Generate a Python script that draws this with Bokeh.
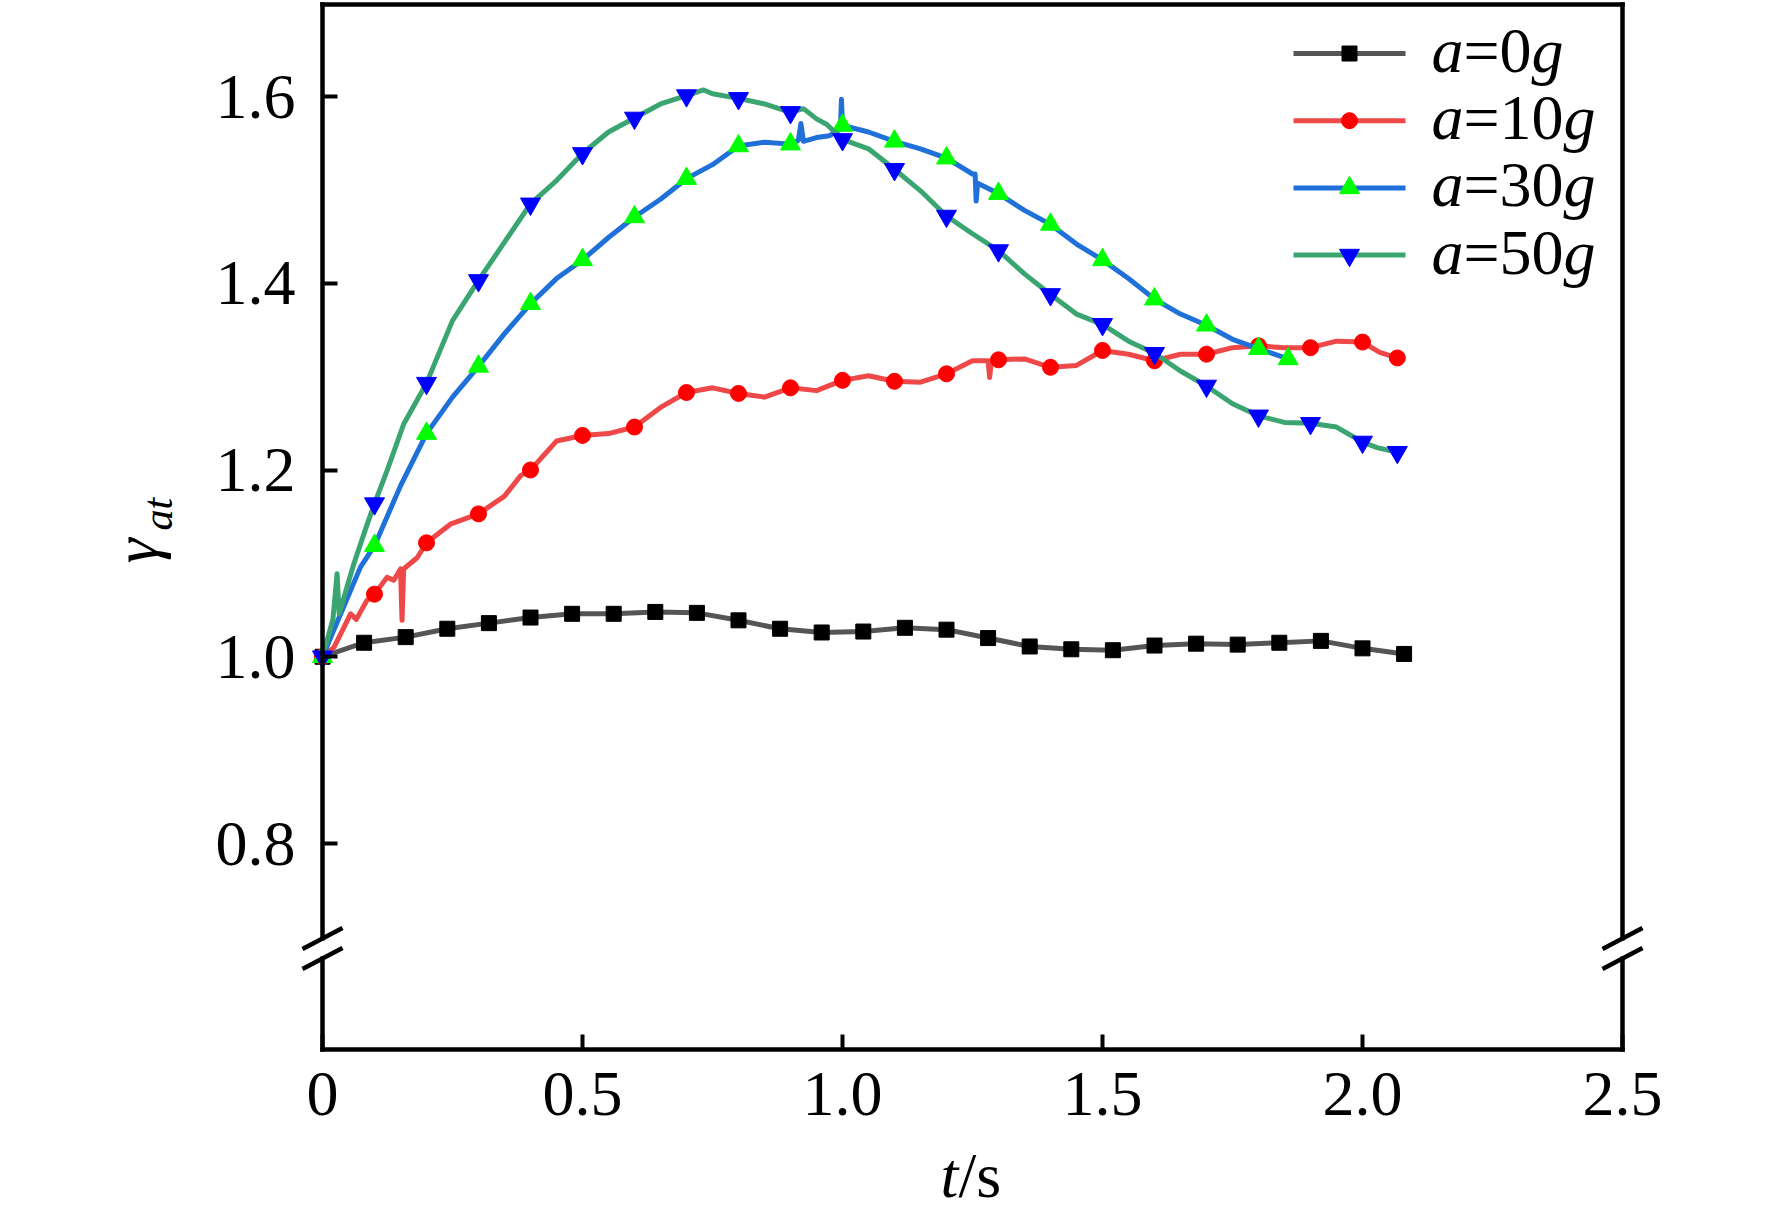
import math
from bokeh.plotting import figure
from bokeh.models import Range1d, LinearAxis, FixedTicker
from bokeh.core.properties import value
from bokeh.embed import file_html
from bokeh.resources import INLINE

# ---------------- data ----------------
t_0g = [0.00, 0.08, 0.16, 0.24, 0.32, 0.40, 0.48, 0.56, 0.64, 0.72, 0.80, 0.88, 0.96, 1.04,
        1.12, 1.20, 1.28, 1.36, 1.44, 1.52, 1.60, 1.68, 1.76, 1.84, 1.92, 2.00, 2.08]
y_0g = [1.000, 1.015, 1.021, 1.030, 1.036, 1.042, 1.046, 1.046, 1.048, 1.047, 1.039, 1.030, 1.026, 1.027,
        1.031, 1.029, 1.020, 1.011, 1.008, 1.007, 1.012, 1.014, 1.013, 1.015, 1.017, 1.009, 1.003]

t_10g = [0.000, 0.022, 0.040, 0.054, 0.065, 0.085, 0.100, 0.124, 0.137, 0.150, 0.153, 0.156, 0.182, 0.200,
         0.246, 0.300, 0.350, 0.381, 0.400, 0.450, 0.500, 0.550, 0.600, 0.650, 0.700, 0.750, 0.800, 0.850,
         0.900, 0.950, 1.000, 1.050, 1.100, 1.150, 1.200, 1.250, 1.280, 1.283, 1.286, 1.300, 1.350, 1.400,
         1.450, 1.500, 1.550, 1.600, 1.650, 1.700, 1.750, 1.800, 1.850, 1.900, 1.950, 2.000, 2.033, 2.067]
y_10g = [1.000, 1.010, 1.030, 1.046, 1.040, 1.060, 1.067, 1.085, 1.082, 1.094, 1.039, 1.094, 1.106, 1.122,
         1.142, 1.153, 1.172, 1.194, 1.200, 1.231, 1.237, 1.239, 1.246, 1.267, 1.283, 1.288, 1.282, 1.278,
         1.288, 1.285, 1.296, 1.301, 1.295, 1.294, 1.303, 1.317, 1.317, 1.299, 1.316, 1.318, 1.319, 1.310,
         1.312, 1.328, 1.324, 1.317, 1.324, 1.324, 1.331, 1.333, 1.331, 1.331, 1.338, 1.337, 1.326, 1.320]

t_30g = [0.000, 0.035, 0.073, 0.100, 0.150, 0.200, 0.250, 0.300, 0.350, 0.400, 0.450, 0.500, 0.550, 0.600,
         0.650, 0.700, 0.750, 0.800, 0.850, 0.900, 0.915, 0.920, 0.925, 0.950, 0.975, 0.996, 0.998, 1.000,
         1.050, 1.100, 1.150, 1.200, 1.250, 1.255, 1.257, 1.260, 1.300, 1.350, 1.400, 1.450, 1.500, 1.550,
         1.600, 1.650, 1.700, 1.750, 1.800, 1.857]
y_30g = [1.000, 1.046, 1.096, 1.119, 1.183, 1.239, 1.278, 1.311, 1.346, 1.378, 1.405, 1.425, 1.449, 1.471,
         1.490, 1.512, 1.527, 1.547, 1.551, 1.549, 1.553, 1.571, 1.552, 1.556, 1.558, 1.565, 1.597, 1.569,
         1.562, 1.552, 1.544, 1.534, 1.517, 1.517, 1.488, 1.507, 1.496, 1.478, 1.463, 1.442, 1.425, 1.405,
         1.383, 1.367, 1.355, 1.340, 1.330, 1.319]

t_50g = [0.000, 0.020, 0.028, 0.032, 0.060, 0.086, 0.100, 0.124, 0.156, 0.200, 0.250, 0.300, 0.350, 0.400,
         0.450, 0.500, 0.550, 0.600, 0.650, 0.700, 0.733, 0.750, 0.800, 0.850, 0.900, 0.925, 0.950, 0.970,
         1.000, 1.050, 1.100, 1.150, 1.200, 1.250, 1.300, 1.350, 1.400, 1.450, 1.500, 1.550, 1.600, 1.650,
         1.700, 1.750, 1.800, 1.850, 1.900, 1.950, 2.000, 2.028, 2.067]
y_50g = [1.000, 1.040, 1.089, 1.046, 1.099, 1.142, 1.164, 1.199, 1.249, 1.293, 1.360, 1.403, 1.444, 1.485,
         1.510, 1.539, 1.562, 1.577, 1.592, 1.601, 1.607, 1.603, 1.598, 1.592, 1.583, 1.587, 1.576, 1.570,
         1.554, 1.544, 1.522, 1.499, 1.472, 1.453, 1.435, 1.410, 1.388, 1.367, 1.356, 1.338, 1.325, 1.306,
         1.290, 1.271, 1.258, 1.251, 1.250, 1.246, 1.230, 1.224, 1.219]

series_accel = ["0", "10", "30", "50"]
x_ticks = [0.0, 0.5, 1.0, 1.5, 2.0, 2.5]
x_tick_labels = ["0", "0.5", "1.0", "1.5", "2.0", "2.5"]
y_ticks = [0.8, 1.0, 1.2, 1.4, 1.6]
y_tick_labels = ["0.8", "1.0", "1.2", "1.4", "1.6"]

# ---------------- geometry ----------------
FONT = "Liberation Serif"
W, H = 1768, 1218
SX = 520.0      # px per unit of t
SY = 933.75     # px per unit of gamma
X_START = -322 / SX
Y_END = 1.6 + 96 / SY


def X(px):
    return X_START + px / SX


def Y(py):
    return Y_END - py / SY


XB0, XB1 = 0.0, 2.5          # box in data units
YB0, YB1 = Y(1049), Y(4)

line_colors = ["#555555", "#EE4848", "#1F70D8", "#3BA572"]
marker_colors = ["#000000", "#FF0000", "#00FF00", "#0000FF"]
markers = ["square", "circle", "triangle", "inverted_triangle"]
marker_sizes = [15, 16, 20, 20]

p = figure(width=W, height=H,
           x_range=Range1d(X_START, X_START + W / SX),
           y_range=Range1d(Y_END - H / SY, Y_END),
           x_axis_location=None, y_axis_location=None,
           min_border=0, output_backend="svg", toolbar_location=None)
p.grid.visible = False
p.outline_line_color = None
p.background_fill_color = "white"
p.border_fill_color = "white"


def make_axis(ticks, labels, fixed, bounds, with_ticks, standoff):
    ax = LinearAxis(ticker=FixedTicker(ticks=ticks), fixed_location=fixed, bounds=bounds)
    if labels:
        ax.major_label_overrides = {t: s for t, s in zip(ticks, labels)}
    ax.axis_line_color = "black"
    ax.axis_line_width = 4.5
    ax.axis_line_cap = "square"
    ax.minor_tick_line_color = None
    ax.major_tick_in = 15 if with_ticks else 0
    ax.major_tick_out = 0
    ax.major_tick_line_width = 4
    ax.major_tick_line_color = "black" if with_ticks else None
    ax.major_label_text_font = FONT
    ax.major_label_text_font_size = "64px" if labels else "0px"
    ax.major_label_text_color = "black"
    ax.major_label_standoff = standoff
    return ax


p.add_layout(make_axis(x_ticks, x_tick_labels, YB0, (XB0, XB1), True, 23), "below")
p.add_layout(make_axis(y_ticks, y_tick_labels, XB0, (YB0, YB1), True, 27), "left")
p.add_layout(make_axis([], None, YB1, (XB0, XB1), False, 0), "above")
p.add_layout(make_axis([], None, XB1, (YB0, YB1), False, 0), "right")

# ---------------- curves ----------------
all_t = [t_0g, t_10g, t_30g, t_50g]
all_y = [y_0g, y_10g, y_30g, y_50g]
for i in range(4):
    t, y = all_t[i], all_y[i]
    p.line(t, y, line_color=line_colors[i], line_width=5, line_join="round")
    if i == 0:
        mt, my = t, y
    else:
        idx = [k for k, tv in enumerate(t)
               if abs(tv * 10 - round(tv * 10)) < 1e-6 or k == len(t) - 1]
        mt = [t[k] for k in idx]
        my = [y[k] for k in idx]
    p.scatter(mt, my, marker=markers[i], size=marker_sizes[i],
              fill_color=marker_colors[i], line_color=marker_colors[i])

# ---------------- legend (mixed italic / upright text) ----------------
row0, row_dy = 53, 67.2                     # px from top
lx0, lx1, lmx, ltx = 1293, 1405, 1349, 1431  # px from left
fs = 64
BASE_FIX = 22   # empirical correction of the rendered text baseline (px, for 64px text)


def txt(x, y, s, style, size, angle=0.0):
    p.text([x], [y], text=[s], text_font=value(FONT), text_font_style=style,
           text_font_size=f"{size}px", text_baseline="alphabetic", text_align="left",
           text_color="black", angle=angle)


for i, acc in enumerate(series_accel):
    yc_px = row0 + i * row_dy
    yc = Y(yc_px)
    p.line([X(lx0), X(lx1)], [yc, yc], line_color=line_colors[i], line_width=5)
    p.scatter([X(lmx)], [yc], marker=markers[i], size=marker_sizes[i],
              fill_color=marker_colors[i], line_color=marker_colors[i])
    yb = Y(yc_px + 19 - BASE_FIX)
    xa_px = ltx
    xb_px = xa_px + 0.5 * fs
    xc_px = xb_px + (0.564 + 0.5 * len(acc)) * fs
    txt(X(xa_px), yb, "a", "italic", fs)
    txt(X(xb_px), yb, "=" + acc, "normal", fs)
    txt(X(xc_px), yb, "g", "italic", fs)

# ---------------- axis titles ----------------
txt(X(157 - BASE_FIX), Y(563), "γ", "italic", 64, math.pi / 2)
txt(X(171 - 14), Y(530), "at", "italic", 42, math.pi / 2)
txt(X(940), Y(1192 - 17), "t", "italic", 64)
txt(X(958), Y(1192 - 17), "/s", "normal", 64)

# ---------------- axis break marks ----------------
brk_px = 948
for ax_px in (322, 1622):
    p.segment(x0=[X(ax_px)], y0=[Y(brk_px + 8)], x1=[X(ax_px)], y1=[Y(brk_px - 8)],
              line_color="white", line_width=9, level="overlay")
    for dy in (-10, 10):
        yc_px = brk_px + dy
        p.segment(x0=[X(ax_px - 20)], y0=[Y(yc_px + 10.5)], x1=[X(ax_px + 20)], y1=[Y(yc_px - 10.5)],
                  line_color="black", line_width=4.5, level="overlay")

open("out.html", "w").write(file_html(p, INLINE))
